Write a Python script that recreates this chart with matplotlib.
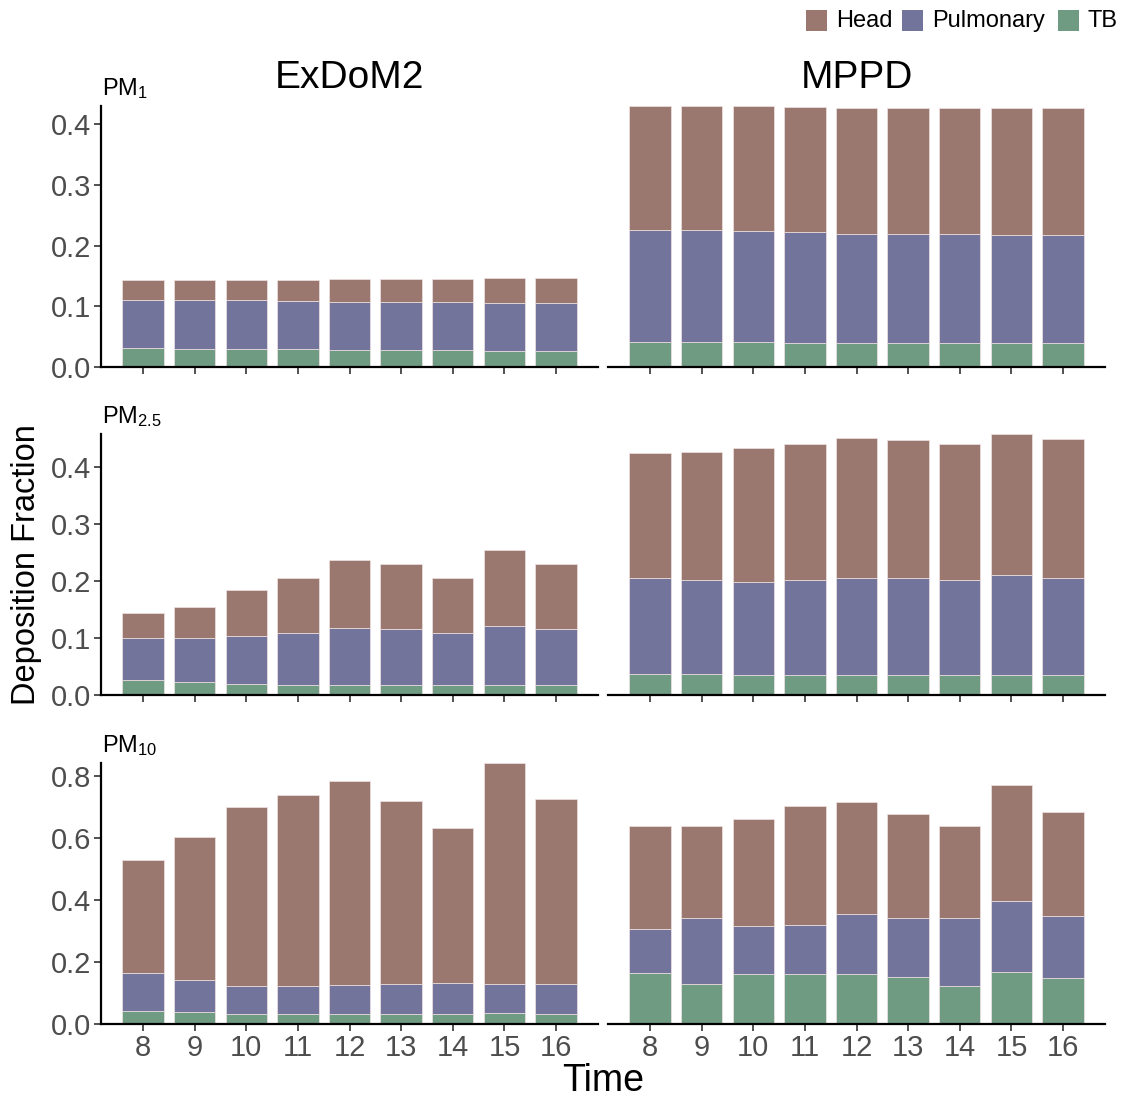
import matplotlib
matplotlib.use("Agg")
import matplotlib.pyplot as plt
from matplotlib.patches import Rectangle
import numpy as np

plt.rcParams['font.family'] = ['Liberation Sans', 'DejaVu Sans']
plt.rcParams['mathtext.fontset'] = 'custom'
plt.rcParams['mathtext.rm'] = 'Liberation Sans'
plt.rcParams['mathtext.it'] = 'Liberation Sans'

times = [8, 9, 10, 11, 12, 13, 14, 15, 16]
models = ["ExDoM2", "MPPD"]
pm_labels = [r"PM$_{\mathregular{1}}$", r"PM$_{\mathregular{2.5}}$", r"PM$_{\mathregular{10}}$"]
series = ["Head", "Pulmonary", "TB"]
colors = {"Head": "#9B786F", "Pulmonary": "#73749B", "TB": "#6F9B82"}

# Cumulative stacked tops: (TB, TB+Pulmonary, total)
exdom_pm1_tb = [0.031, 0.030, 0.030, 0.029, 0.028, 0.028, 0.028, 0.027, 0.027]
exdom_pm1_pul_top = [0.111, 0.111, 0.110, 0.109, 0.108, 0.108, 0.107, 0.106, 0.106]
exdom_pm1_total = [0.144, 0.144, 0.144, 0.144, 0.145, 0.145, 0.145, 0.147, 0.147]

mppd_pm1_tb = [0.041, 0.041, 0.041, 0.040, 0.040, 0.040, 0.040, 0.039, 0.039]
mppd_pm1_pul_top = [0.226, 0.226, 0.224, 0.222, 0.220, 0.220, 0.220, 0.217, 0.217]
mppd_pm1_total = [0.431, 0.430, 0.430, 0.429, 0.428, 0.428, 0.428, 0.428, 0.428]

exdom_pm25_tb = [0.026, 0.023, 0.020, 0.018, 0.018, 0.018, 0.018, 0.018, 0.018]
exdom_pm25_pul_top = [0.101, 0.101, 0.104, 0.110, 0.118, 0.116, 0.110, 0.122, 0.116]
exdom_pm25_total = [0.145, 0.155, 0.184, 0.205, 0.238, 0.231, 0.206, 0.254, 0.231]

mppd_pm25_tb = [0.038, 0.037, 0.036, 0.035, 0.035, 0.035, 0.035, 0.035, 0.035]
mppd_pm25_pul_top = [0.206, 0.202, 0.199, 0.202, 0.206, 0.205, 0.202, 0.210, 0.206]
mppd_pm25_total = [0.424, 0.426, 0.434, 0.441, 0.451, 0.448, 0.441, 0.458, 0.450]

exdom_pm10_tb = [0.044, 0.039, 0.032, 0.032, 0.033, 0.032, 0.033, 0.036, 0.033]
exdom_pm10_pul_top = [0.166, 0.143, 0.124, 0.124, 0.128, 0.129, 0.134, 0.129, 0.131]
exdom_pm10_total = [0.528, 0.605, 0.701, 0.740, 0.783, 0.721, 0.634, 0.843, 0.727]

mppd_pm10_tb = [0.165, 0.131, 0.161, 0.161, 0.163, 0.152, 0.124, 0.168, 0.150]
mppd_pm10_pul_top = [0.307, 0.341, 0.316, 0.321, 0.356, 0.343, 0.343, 0.397, 0.349]
mppd_pm10_total = [0.640, 0.639, 0.661, 0.702, 0.715, 0.679, 0.638, 0.771, 0.685]

data = [
    [(exdom_pm1_tb, exdom_pm1_pul_top, exdom_pm1_total), (mppd_pm1_tb, mppd_pm1_pul_top, mppd_pm1_total)],
    [(exdom_pm25_tb, exdom_pm25_pul_top, exdom_pm25_total), (mppd_pm25_tb, mppd_pm25_pul_top, mppd_pm25_total)],
    [(exdom_pm10_tb, exdom_pm10_pul_top, exdom_pm10_total), (mppd_pm10_tb, mppd_pm10_pul_top, mppd_pm10_total)],
]
yticks = [[0.0, 0.1, 0.2, 0.3, 0.4], [0.0, 0.1, 0.2, 0.3, 0.4], [0.0, 0.2, 0.4, 0.6, 0.8]]

W, H = 1126, 1099
fig = plt.figure(figsize=(W / 100, H / 100), dpi=100)

col_x = [(101, 598), (608, 1105)]
row_y = [(105.7, 367), (434, 695.3), (762.7, 1024.3)]

x = np.arange(1, len(times) + 1)
tick_gray = "#4D4D4D"
for r in range(3):
    ymax = max(max(data[r][0][2]), max(data[r][1][2]))
    for c in range(2):
        x0, x1 = col_x[c]
        yt, yb = row_y[r]
        ax = fig.add_axes([x0 / W, 1 - yb / H, (x1 - x0) / W, (yb - yt) / H])
        tb, pul_top, total = [np.array(v) for v in data[r][c]]
        kw = dict(width=0.8, edgecolor="#EFE3E3", linewidth=0.5)
        ax.bar(x, tb, color=colors["TB"], **kw)
        ax.bar(x, pul_top - tb, bottom=tb, color=colors["Pulmonary"], **kw)
        ax.bar(x, total - pul_top, bottom=pul_top, color=colors["Head"], **kw)
        ax.set_xlim(0.19, 9.81)
        ax.set_ylim(0, ymax)
        for s in ["top", "right"]:
            ax.spines[s].set_visible(False)
        ax.spines["bottom"].set_linewidth(1.6)
        ax.spines["left"].set_linewidth(1.6)
        ax.set_xticks(x)
        ax.tick_params(axis="x", length=5, width=1.2, color="#333333",
                       labelsize=21, labelcolor=tick_gray, pad=2)
        if r == 2:
            ax.set_xticklabels([str(t) for t in times])
        else:
            ax.set_xticklabels([])
        if c == 0:
            ax.set_yticks(yticks[r])
            ax.set_yticklabels([f"{v:.1f}" for v in yticks[r]])
            ax.tick_params(axis="y", length=5, width=1.2, color="#333333",
                           labelsize=21, labelcolor=tick_gray, pad=2)
        else:
            ax.spines["left"].set_visible(False)
            ax.set_yticks([])
    # PM labels
    fig.text(102 / W, 1 - (row_y[r][0] - 11) / H, pm_labels[r], fontsize=17,
             ha="left", va="baseline", color="black")

# column titles
for c, name in enumerate(models):
    cx = (col_x[c][0] + col_x[c][1]) / 2
    fig.text(cx / W, 1 - 78 / H, name, fontsize=28, ha="center", va="center")

fig.text(27 / W, 1 - 565 / H, "Deposition Fraction", fontsize=23.5, rotation=90,
         ha="center", va="center")
fig.text(603 / W, 1 - 1081 / H, "Time", fontsize=27, ha="center", va="center")

# legend
for name, tx in zip(series, [806, 902, 1058]):
    fig.patches.append(Rectangle((tx / W, 1 - 31 / H), 21 / W, 21 / H,
                                 transform=fig.transFigure, facecolor=colors[name],
                                 edgecolor="none"))
    fig.text((tx + 30) / W, 1 - 21 / H, name, fontsize=17, ha="left", va="center")

fig.savefig("out.png", dpi=100)
